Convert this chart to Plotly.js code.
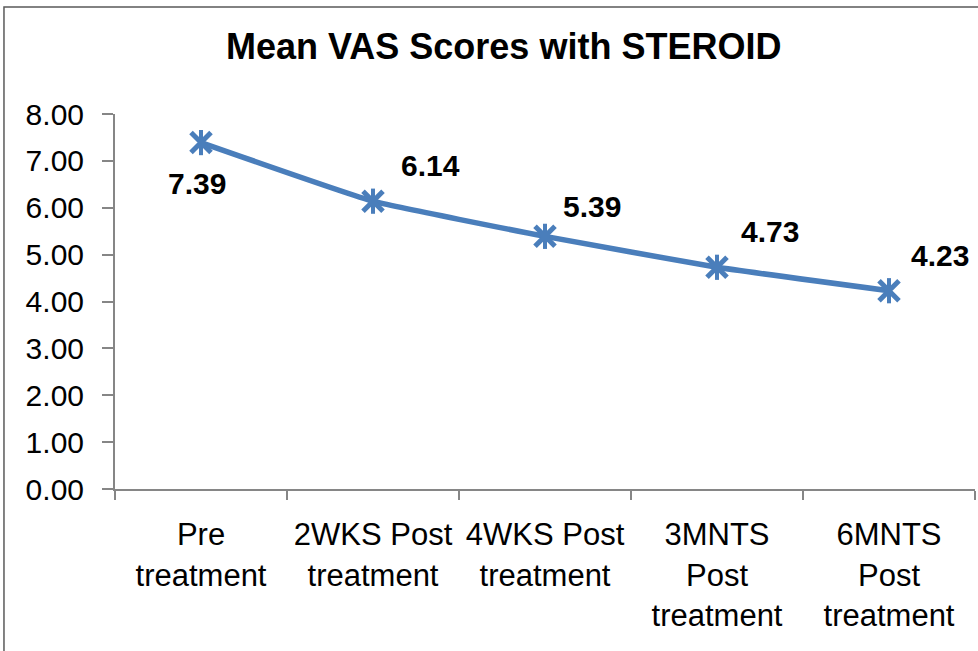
<!DOCTYPE html>
<html>
<head>
<meta charset="utf-8">
<script src="https://cdn.plot.ly/plotly-3.0.1.min.js"></script>
<style>
  html, body { margin: 0; padding: 0; background: #ffffff; }
  #chart { width: 978px; height: 651px; }
</style>
</head>
<body>
<div id="chart"></div>
<script>
// Data
const categories = [
  "Pre<br>treatment",
  "2WKS Post<br>treatment",
  "4WKS Post<br>treatment",
  "3MNTS<br>Post<br>treatment",
  "6MNTS<br>Post<br>treatment"
];
const meanVAS = [7.39, 6.14, 5.39, 4.73, 4.23];
const valueLabels = ["7.39", "6.14", "5.39", "4.73", "4.23"];
const yTickVals = [0, 1, 2, 3, 4, 5, 6, 7, 8];
const yTickText = ["0.00", "1.00", "2.00", "3.00", "4.00", "5.00", "6.00", "7.00", "8.00"];

// Styling (label offsets in pixels)
const labelShiftX = [-4, 57, 47, 53, 51];
const labelShiftY = [-41, 36, 30, 36, 35];
const blue = "#4A7EBB";
const fontFamily = "'Liberation Sans', Arial, sans-serif";

const traces = [
  {
    x: categories, y: meanVAS, type: "scatter", mode: "lines",
    line: { color: blue, width: 5.5, shape: "spline", smoothing: 0.35 },
    hoverinfo: "skip", showlegend: false
  },
  {
    x: categories, y: meanVAS, type: "scatter", mode: "markers",
    marker: { symbol: "x-thin-open", size: 20, color: blue, line: { color: blue, width: 5 } },
    showlegend: false
  },
  {
    x: categories, y: meanVAS, type: "scatter", mode: "markers",
    marker: { symbol: "line-ns-open", size: 18, color: blue, line: { color: blue, width: 4 } },
    showlegend: false
  }
];

const annotations = categories.map((c, i) => ({
  x: c, y: meanVAS[i], xref: "x", yref: "y",
  text: "<b>" + valueLabels[i] + "</b>",
  showarrow: false,
  xshift: labelShiftX[i], yshift: labelShiftY[i],
  font: { family: fontFamily, size: 30, color: "#000000" }
}));

const layout = {
  width: 978, height: 651,
  margin: { l: 115, r: 3, t: 114, b: 162 },
  paper_bgcolor: "#ffffff", plot_bgcolor: "#ffffff",
  showlegend: false,
  title: {
    text: "<b>Mean VAS Scores with STEROID</b>",
    x: 0.515, xref: "container", xanchor: "center",
    y: 0.929, yref: "container", yanchor: "middle",
    font: { family: fontFamily, size: 36, color: "#000000" }
  },
  xaxis: {
    type: "category",
    range: [-0.5, 4.5],
    showline: true, linecolor: "#868686", linewidth: 2,
    ticks: "outside", tickson: "boundaries", ticklen: 9, tickwidth: 2, tickcolor: "#868686",
    showgrid: false, zeroline: false,
    tickangle: 0,
    ticklabelstandoff: 17,
    tickfont: { family: fontFamily, size: 31, color: "#000000" },
    fixedrange: true
  },
  yaxis: {
    range: [0, 8],
    tickvals: yTickVals, ticktext: yTickText,
    showline: true, linecolor: "#868686", linewidth: 2,
    ticks: "outside", ticklen: 11, tickwidth: 2, tickcolor: "#868686",
    showgrid: false, zeroline: false,
    ticklabelstandoff: 12,
    tickfont: { family: fontFamily, size: 30, color: "#000000" },
    fixedrange: true
  },
  annotations: annotations,
  shapes: [
    {
      type: "rect", xref: "paper", yref: "paper",
      x0: -0.1291, x1: 1.02, y0: -0.46, y1: 1.2853,
      line: { color: "#5a5a5a", width: 1.5 }, fillcolor: "rgba(0,0,0,0)",
      layer: "above"
    }
  ]
};

Plotly.newPlot("chart", traces, layout, { displayModeBar: false, staticPlot: true });
</script>
</body>
</html>
